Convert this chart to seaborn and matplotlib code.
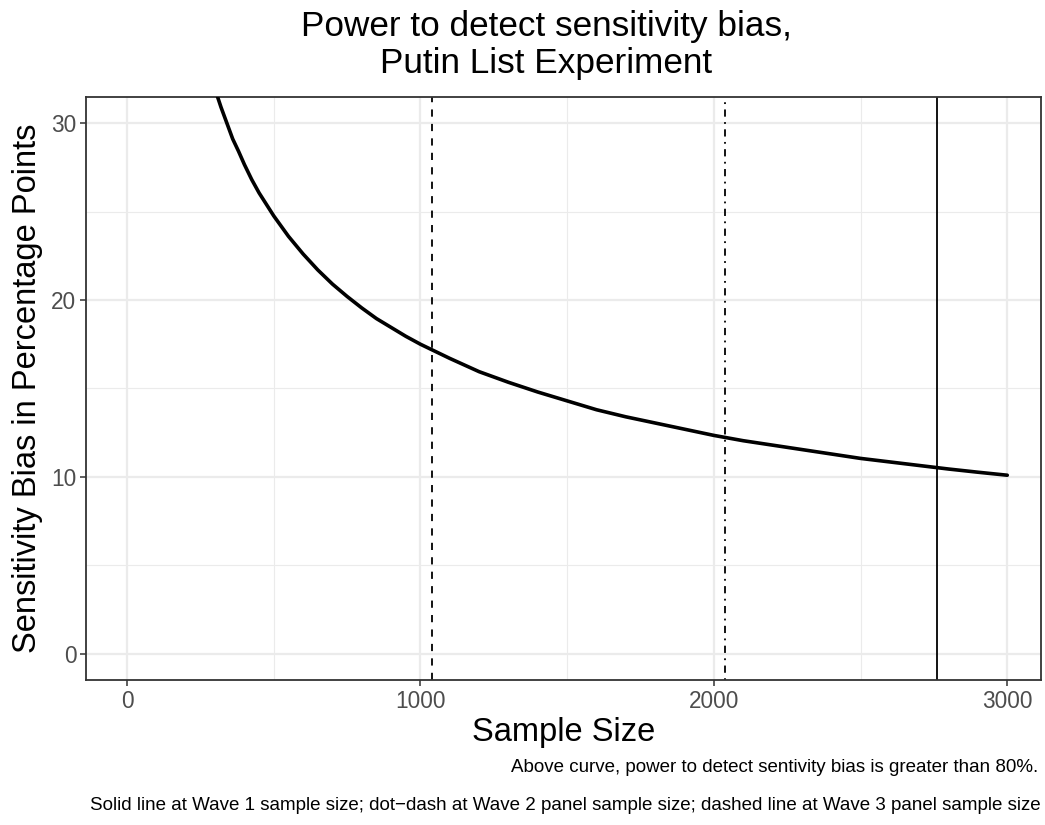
import matplotlib
matplotlib.use("Agg")
import matplotlib.pyplot as plt
import seaborn as sns
import pandas as pd
from matplotlib.ticker import FixedLocator

# Data
sample_size = [300, 320, 340, 360, 380, 400, 425, 450, 475, 500, 550, 600, 650, 700, 750,
               800, 850, 900, 950, 1000, 1100, 1200, 1300, 1400, 1500, 1600, 1700, 1800,
               1900, 2000, 2100, 2200, 2300, 2400, 2500, 2600, 2700, 2800, 2900, 3000]
bias_pp = [31.9, 30.9, 30.0, 29.1, 28.4, 27.65, 26.8, 26.05, 25.4, 24.75, 23.6, 22.6, 21.7,
           20.9, 20.2, 19.55, 18.95, 18.45, 17.95, 17.5, 16.7, 15.95, 15.35, 14.8, 14.3, 13.8,
           13.4, 13.05, 12.7, 12.35, 12.05, 11.8, 11.55, 11.3, 11.05, 10.85, 10.65, 10.45,
           10.27, 10.1]
wave_sizes = [2760, 2037, 1039]          # Wave 1 (solid), Wave 2 (dot-dash), Wave 3 (dashed)
wave_styles = ["solid", "dotdash", "dashed"]
x_ticks = [0, 1000, 2000, 3000]
y_ticks = [0, 10, 20, 30]

df = pd.DataFrame({"n": sample_size, "bias": bias_pp})

sns.set_theme(style="white")
plt.rcParams["font.family"] = ["Liberation Sans", "DejaVu Sans"]
plt.rcParams["text.color"] = "black"

fig = plt.figure(figsize=(10.45, 8.25), dpi=100)
ax = fig.add_axes([86/1045, 1-680/825, (1041-86)/1045, (680-97)/825])

ax.set_xlim(-140, 3115)
ax.set_ylim(-1.47, 31.47)

ax.xaxis.set_major_locator(FixedLocator(x_ticks))
ax.yaxis.set_major_locator(FixedLocator(y_ticks))
ax.xaxis.set_minor_locator(FixedLocator([500, 1500, 2500]))
ax.yaxis.set_minor_locator(FixedLocator([5, 15, 25]))
ax.grid(True, which="major", color="#EBEBEB", lw=1.6, zorder=0)
ax.grid(True, which="minor", color="#EBEBEB", lw=0.8, zorder=0)
ax.set_axisbelow(True)

sns.lineplot(data=df, x="n", y="bias", ax=ax, color="black", lw=2.6, zorder=3)

dash_map = {"solid": "-", "dashed": (0, (4, 4)), "dotdash": (0, (1, 3, 4, 3))}
for xv, st in zip(wave_sizes, wave_styles):
    ax.axvline(xv, color="black", lw=1.3, linestyle=dash_map[st], zorder=2)

for s in ax.spines.values():
    s.set_color("#333333")
    s.set_linewidth(1.3)

ax.tick_params(axis="both", which="major", length=4, width=1.1, color="#333333",
               labelsize=16.3, labelcolor="#4D4D4D", pad=3, bottom=True, left=True)
ax.tick_params(axis="both", which="minor", length=0)

ax.set_xlabel("Sample Size", fontsize=23.5, color="black", labelpad=3)
ax.set_ylabel("Sensitivity Bias in Percentage Points", fontsize=23.5, color="black", labelpad=6)

title_x = 546 / 1045
fig.text(title_x, 1 - 36/825, "Power to detect sensitivity bias,", ha="center", va="baseline",
         fontsize=25.3, color="black")
fig.text(title_x, 1 - 73/825, "Putin List Experiment", ha="center", va="baseline",
         fontsize=25.3, color="black")

fig.text(1038/1045, 1-768/825, "Above curve, power to detect sentivity bias is greater than 80%.",
         ha="right", va="center", fontsize=13.5, color="black")
fig.text(1041/1045, 1-806/825,
         "Solid line at Wave 1 sample size; dot\u2212dash at Wave 2 panel sample size; dashed line at Wave 3 panel sample size",
         ha="right", va="center", fontsize=13.5, color="black")

fig.savefig("out.png", dpi=100)
